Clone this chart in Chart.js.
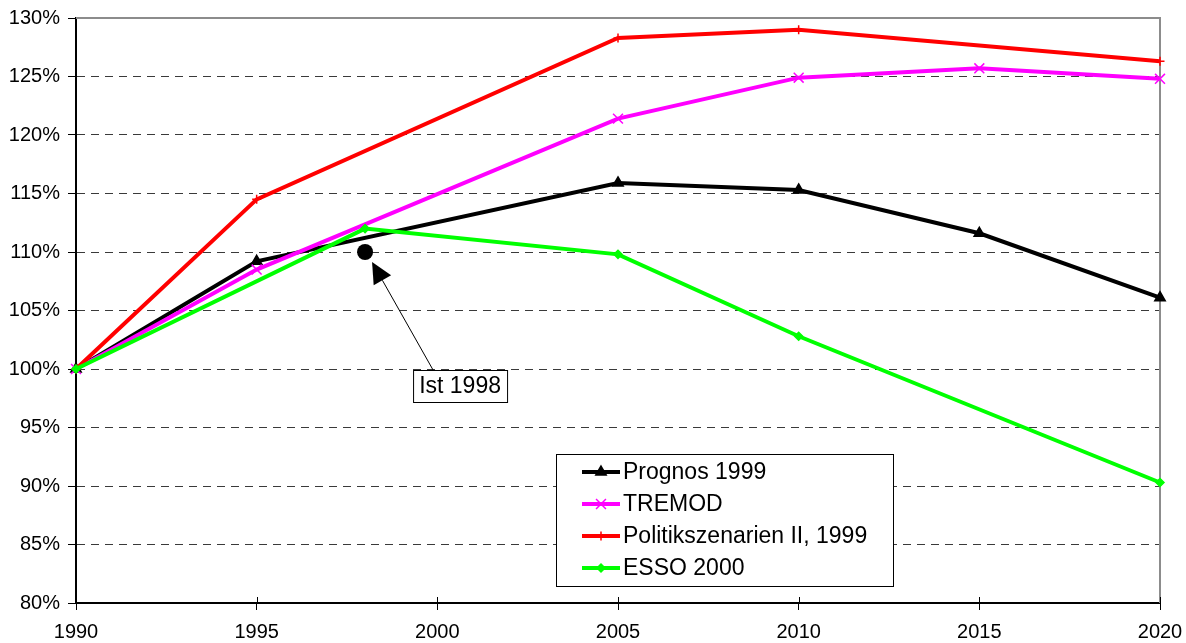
<!DOCTYPE html>
<html>
<head>
<meta charset="utf-8">
<script src="https://cdn.jsdelivr.net/npm/chart.js@4.4.0/dist/chart.umd.min.js"></script>
<style>
  html, body { margin: 0; padding: 0; background: #fff; }
  #wrap { width: 1186px; height: 643px; }
</style>
</head>
<body>
<div id="wrap"><canvas id="c" width="1186" height="643"></canvas></div>
<script>
// Fahrleistungs-Szenarien, Index 1990 = 100 %
const yearsPrognos = [1990, 1995, 2005, 2010, 2015, 2020];
const valuesPrognos = [100, 109.2, 115.9, 115.3, 111.6, 106.1];

const yearsTremod = [1990, 1995, 2005, 2010, 2015, 2020];
const valuesTremod = [100, 108.5, 121.4, 124.9, 125.7, 124.8];

const yearsPolitik = [1990, 1995, 2005, 2010, 2020];
const valuesPolitik = [100, 114.5, 128.3, 129.0, 126.3];

const yearsEsso = [1990, 1998, 2005, 2010, 2020];
const valuesEsso = [100, 112.0, 109.8, 102.8, 90.3];

const istYear = 1998;
const istValue = 110.0;
const istLabel = 'Ist 1998';

const seriesLabels = ['Prognos 1999', 'TREMOD', 'Politikszenarien II, 1999', 'ESSO 2000'];
const xTicks = [1990, 1995, 2000, 2005, 2010, 2015, 2020];
const yTicks = [80, 85, 90, 95, 100, 105, 110, 115, 120, 125, 130];

const FONT = "'Liberation Sans', Arial, sans-serif";

function points(xs, ys) {
  return xs.map((x, i) => ({ x: x, y: ys[i] }));
}

function series(label, xs, ys, color, style, radius, order) {
  return {
    label: label,
    data: points(xs, ys),
    borderColor: color,
    backgroundColor: color,
    borderWidth: 4,
    pointStyle: style,
    pointRadius: radius,
    pointBorderWidth: 1.5,
    pointBorderColor: color,
    pointBackgroundColor: color,
    tension: 0,
    clip: false,
    order: order
  };
}

const datasets = [
  series(seriesLabels[0], yearsPrognos, valuesPrognos, '#000000', 'triangle', 6, 4),
  series(seriesLabels[1], yearsTremod, valuesTremod, '#ff00ff', 'crossRot', 7, 3),
  series(seriesLabels[2], yearsPolitik, valuesPolitik, '#ff0000', 'cross', 4.5, 2),
  series(seriesLabels[3], yearsEsso, valuesEsso, '#00ff00', 'rectRot', 4, 1),
  {
    label: istLabel,
    data: [{ x: istYear, y: istValue }],
    showLine: false,
    pointStyle: 'circle',
    pointRadius: 8,
    pointBorderWidth: 0,
    pointBackgroundColor: '#000',
    borderColor: '#000',
    clip: false,
    order: 0,
    isMarker: true
  }
];

// grey frame on top and right of the plot area
const framePlugin = {
  id: 'frame',
  beforeDatasetsDraw(chart) {
    const { ctx, chartArea: a } = chart;
    ctx.save();
    ctx.strokeStyle = '#8c8c8c';
    ctx.lineWidth = 2;
    ctx.beginPath();
    ctx.moveTo(a.left, a.top);
    ctx.lineTo(a.right, a.top);
    ctx.lineTo(a.right, a.bottom);
    ctx.stroke();
    // x tick marks reaching into the plot
    const xs = chart.scales.x;
    ctx.strokeStyle = '#000';
    ctx.lineWidth = 1;
    xTicks.forEach(v => {
      const px = Math.round(xs.getPixelForValue(v)) + 0.5;
      ctx.beginPath();
      ctx.moveTo(px, a.bottom - 6);
      ctx.lineTo(px, a.bottom);
      ctx.stroke();
    });
    ctx.restore();
  }
};

// arrow and callout for the observed value
const calloutPlugin = {
  id: 'callout',
  afterDatasetsDraw(chart) {
    const { ctx } = chart;
    const px = chart.scales.x.getPixelForValue(istYear);
    const py = chart.scales.y.getPixelForValue(istValue);
    const boxL = px + 48, boxT = py + 118, boxW = 94, boxH = 32;
    const tail = { x: boxL + 20, y: boxT };
    const tip = { x: px + 7, y: py + 10 };
    const dx = tip.x - tail.x, dy = tip.y - tail.y;
    const len = Math.hypot(dx, dy);
    const ux = dx / len, uy = dy / len;
    const headL = 21, headW = 20;
    const base = { x: tip.x - ux * headL, y: tip.y - uy * headL };
    ctx.save();
    ctx.strokeStyle = '#000';
    ctx.fillStyle = '#000';
    ctx.lineWidth = 1;
    ctx.beginPath();
    ctx.moveTo(tail.x, tail.y);
    ctx.lineTo(base.x, base.y);
    ctx.stroke();
    ctx.beginPath();
    ctx.moveTo(tip.x, tip.y);
    ctx.lineTo(base.x - uy * headW / 2, base.y + ux * headW / 2);
    ctx.lineTo(base.x + uy * headW / 2, base.y - ux * headW / 2);
    ctx.closePath();
    ctx.fill();
    ctx.fillStyle = '#fff';
    ctx.fillRect(boxL, boxT, boxW, boxH);
    ctx.strokeRect(boxL + 0.5, boxT + 0.5, boxW, boxH);
    ctx.fillStyle = '#000';
    ctx.font = '23px ' + FONT;
    ctx.textAlign = 'center';
    ctx.textBaseline = 'middle';
    ctx.fillText(istLabel, boxL + boxW / 2, boxT + boxH / 2 + 1);
    ctx.restore();
  }
};

// boxed legend inside the plot area
const legendPlugin = {
  id: 'boxLegend',
  afterDraw(chart) {
    const { ctx } = chart;
    const left = 556, top = 454, w = 337, h = 132;
    ctx.save();
    ctx.fillStyle = '#fff';
    ctx.fillRect(left, top, w, h);
    ctx.strokeStyle = '#000';
    ctx.lineWidth = 1;
    ctx.strokeRect(left + 0.5, top + 0.5, w, h);
    chart.data.datasets.forEach((ds, i) => {
      if (ds.isMarker) return;
      const y = top + 18 + i * 32;
      ctx.strokeStyle = ds.borderColor;
      ctx.lineWidth = 4;
      ctx.beginPath();
      ctx.moveTo(left + 26, y);
      ctx.lineTo(left + 64, y);
      ctx.stroke();
      ctx.fillStyle = ds.pointBackgroundColor;
      ctx.strokeStyle = ds.pointBorderColor;
      ctx.lineWidth = ds.pointBorderWidth;
      Chart.helpers.drawPoint(ctx, {
        pointStyle: ds.pointStyle, radius: ds.pointRadius, rotation: 0, borderWidth: ds.pointBorderWidth
      }, left + 45, y);
      ctx.fillStyle = '#000';
      ctx.font = '23px ' + FONT;
      ctx.textAlign = 'left';
      ctx.textBaseline = 'middle';
      ctx.fillText(ds.label, left + 67, y + 1);
    });
    ctx.restore();
  }
};

function noPadding(s) {
  s.paddingLeft = 0;
  s.paddingRight = 0;
  s.paddingTop = 0;
  s.paddingBottom = 0;
}

new Chart(document.getElementById('c'), {
  type: 'line',
  data: { datasets: datasets },
  plugins: [framePlugin, calloutPlugin, legendPlugin],
  options: {
    responsive: false,
    animation: false,
    events: [],
    layout: { padding: { top: 18, right: 26, left: 0, bottom: 0 } },
    plugins: { legend: { display: false }, tooltip: { enabled: false } },
    scales: {
      x: {
        type: 'linear',
        min: 1990,
        max: 2020,
        afterBuildTicks: s => { s.ticks = xTicks.map(v => ({ value: v })); },
        afterFit: s => { s.height = 40; noPadding(s); },
        ticks: {
          font: { family: FONT, size: 20 },
          color: '#000',
          padding: 10,
          maxRotation: 0,
          callback: v => String(v)
        },
        grid: {
          drawOnChartArea: false,
          drawTicks: true,
          tickLength: 7,
          tickColor: '#000',
          tickWidth: 1
        },
        border: { display: true, color: '#000', width: 2 }
      },
      y: {
        min: 80,
        max: 130,
        afterBuildTicks: s => { s.ticks = yTicks.map(v => ({ value: v })); },
        afterFit: s => { s.width = 76; noPadding(s); },
        ticks: {
          font: { family: FONT, size: 20 },
          color: '#000',
          padding: 8,
          callback: v => v + '%'
        },
        grid: {
          color: c => (c.tick && (c.tick.value === 80 || c.tick.value === 130)) ? 'rgba(0,0,0,0)' : '#3a3a3a',
          lineWidth: 1,
          drawTicks: true,
          tickLength: 8,
          tickColor: '#000',
          tickWidth: 1,
          tickBorderDash: []
        },
        border: { display: true, color: '#000', width: 2, dash: [8, 6] }
      }
    }
  }
});
</script>
</body>
</html>
